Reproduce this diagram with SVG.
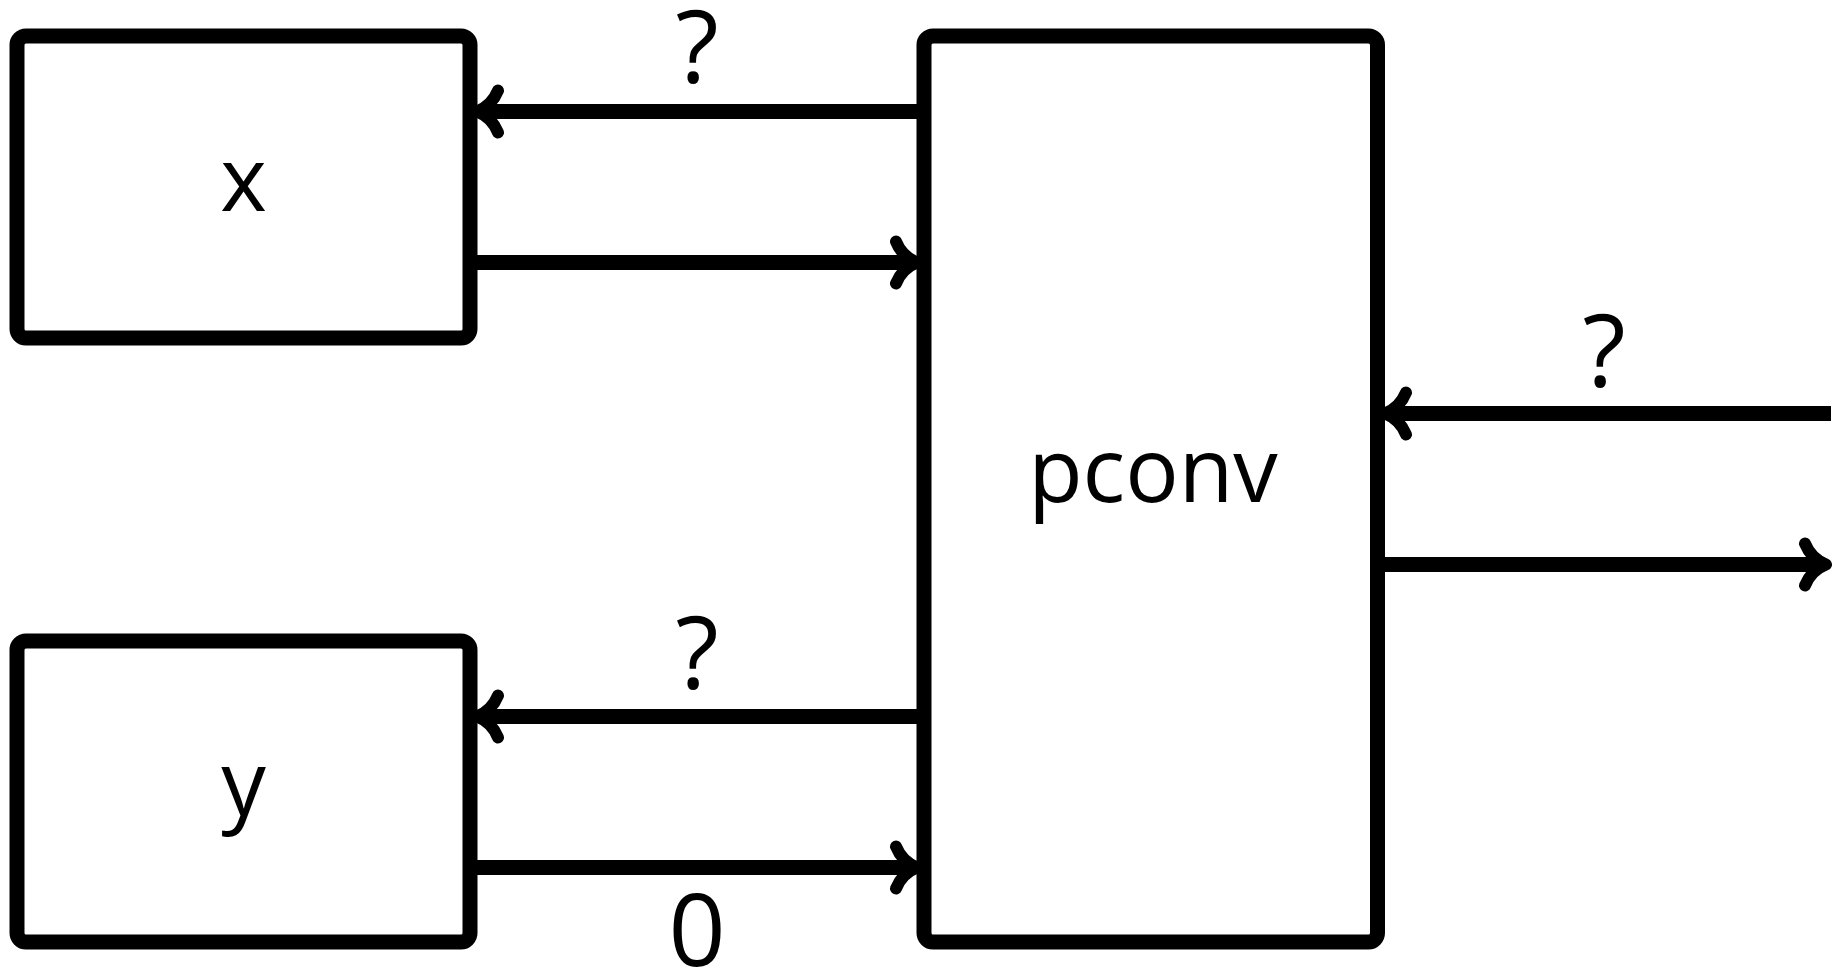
<svg xmlns="http://www.w3.org/2000/svg" width="1845" height="969" viewBox="0 0 1845 969">
<style>
.box{fill:none;stroke:#000;stroke-width:15}
.edge{fill:none;stroke:#000;stroke-width:15}
.ah{fill:none;stroke:#000;stroke-width:12;stroke-linecap:round;stroke-linejoin:round}
.nl{font-family:"Open Sans","Noto Sans",sans-serif;font-size:89px;fill:#000;text-anchor:middle}
.el{font-family:"Open Sans","Noto Sans",sans-serif;font-size:100px;fill:#000;text-anchor:middle}
</style>
<defs>
<path id="head" class="ah" d="M-21,-21 Q-15,-6 0,0 Q-15,6 -21,21"/>
</defs>
<rect width="1845" height="969" fill="#fff"/>
<g id="node-x">
<rect class="box" x="17" y="36" width="453" height="302" rx="9"/>
<text class="nl" x="243.5" y="211">x</text>
</g>
<g id="node-y">
<rect class="box" x="17" y="641" width="453" height="301" rx="9"/>
<text class="nl" x="243.5" y="815">y</text>
</g>
<g id="node-pconv">
<rect class="box" x="924" y="36" width="453.5" height="906" rx="9"/>
<text class="nl" x="1153" y="502">pconv</text>
</g>
<g id="connectors">
<g id="e1">
<line class="edge" x1="924" y1="111.5" x2="480" y2="111.5"/>
<use href="#head" transform="translate(477,111.5) rotate(180)"/>
<text class="el" x="697" y="83">?</text>
</g>
<g id="e2">
<line class="edge" x1="470" y1="262.5" x2="914" y2="262.5"/>
<use href="#head" transform="translate(917,262.5)"/>
</g>
<g id="e3">
<line class="edge" x1="924" y1="716.5" x2="480" y2="716.5"/>
<use href="#head" transform="translate(477,716.5) rotate(180)"/>
<text class="el" x="697" y="689">?</text>
</g>
<g id="e4">
<line class="edge" x1="470" y1="867.5" x2="914" y2="867.5"/>
<use href="#head" transform="translate(917,867.5)"/>
<text class="el" x="697" y="966">0</text>
</g>
<g id="e5">
<line class="edge" x1="1831" y1="413.5" x2="1388" y2="413.5"/>
<use href="#head" transform="translate(1385,413.5) rotate(180)"/>
<text class="el" x="1604" y="387">?</text>
</g>
<g id="e6">
<line class="edge" x1="1377.5" y1="564.5" x2="1823" y2="564.5"/>
<use href="#head" transform="translate(1826,564.5)"/>
</g>
</g>
</svg>
